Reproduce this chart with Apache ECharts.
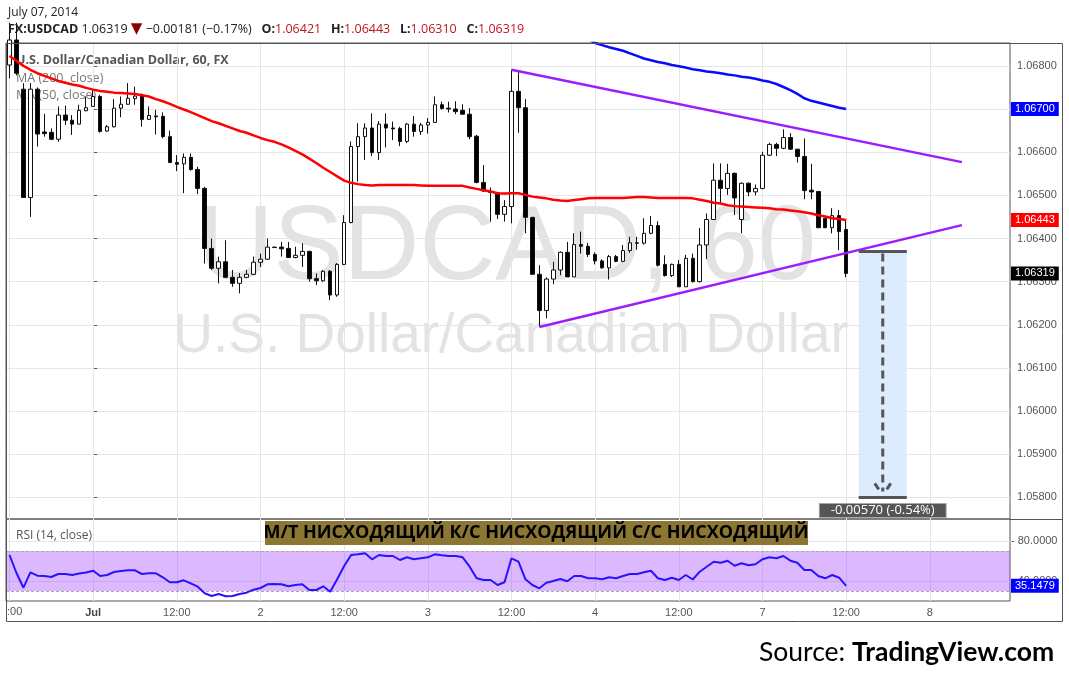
<!DOCTYPE html>
<html><head><meta charset="utf-8">
<script src="https://cdn.jsdelivr.net/npm/echarts@6/dist/echarts.min.js"></script>
<style>html,body{margin:0;padding:0;background:#fff;}#c{width:1069px;height:679px;}</style>
</head><body><div id="c"></div>
<script>
// ---- data (hourly bars, first bar = Jun 30 12:00, bar 12 = Jul 1 00:00) ----
const barCount = 144;   // hourly slots on the time scale (incl. empty future)
const firstBar = -12;   // index of first bar relative to Jul 1 00:00
const xTickLabels = ['12:00','Jul','12:00','2','12:00','3','12:00','4','12:00','7','12:00','8'];
const opens = [
1.06802,1.06860,1.06746,1.06495,1.06746,1.06647,1.06646,1.06630,1.06686,1.06674,1.06665,1.06696,
1.06706,1.06729,1.06649,1.06659,1.06702,1.06711,1.06724,1.06730,1.06676,1.06684,1.06683,1.06636,
1.06576,1.06573,1.06588,1.06560,1.06516,1.06377,1.06331,1.06346,1.06310,1.06296,1.06310,1.06317,
1.06345,1.06352,1.06380,1.06380,1.06377,1.06356,1.06361,1.06370,1.06307,1.06302,1.06324,1.06269,
1.06340,1.06437,1.06613,1.06636,1.06656,1.06599,1.06665,1.06656,1.06655,1.06625,1.06665,1.06648,
1.06663,1.06669,1.06710,1.06702,1.06700,1.06697,1.06688,1.06637,1.06530,1.06509,1.06506,1.06456,
1.06474,1.06741,1.06703,1.06449,1.06317,1.06233,1.06306,1.06327,1.06368,1.06311,1.06386,1.06382,
1.06363,1.06348,1.06332,1.06358,1.06347,1.06372,1.06390,1.06389,1.06412,1.06430,1.06340,1.06314,
1.06340,1.06288,1.06354,1.06300,1.06385,1.06444,1.06535,1.06516,1.06551,1.06444,1.06528,1.06508,
1.06516,1.06593,1.06618,1.06609,1.06634,1.06607,1.06590,1.06512,1.06509,1.06447,1.06425,1.06453,
1.06421];
const closes = [
1.06860,1.06783,1.06495,1.06746,1.06642,1.06643,1.06630,1.06686,1.06674,1.06665,1.06697,1.06703,
1.06729,1.06648,1.06659,1.06702,1.06711,1.06725,1.06730,1.06676,1.06685,1.06682,1.06636,1.06576,
1.06572,1.06588,1.06560,1.06516,1.06377,1.06331,1.06346,1.06310,1.06296,1.06310,1.06317,1.06345,
1.06352,1.06380,1.06379,1.06376,1.06356,1.06361,1.06370,1.06307,1.06302,1.06324,1.06269,1.06340,
1.06437,1.06613,1.06636,1.06656,1.06599,1.06665,1.06656,1.06654,1.06625,1.06665,1.06648,1.06663,
1.06669,1.06710,1.06701,1.06700,1.06694,1.06688,1.06636,1.06530,1.06510,1.06507,1.06456,1.06474,
1.06741,1.06703,1.06449,1.06317,1.06233,1.06306,1.06327,1.06368,1.06311,1.06386,1.06382,1.06363,
1.06348,1.06332,1.06358,1.06347,1.06372,1.06390,1.06389,1.06412,1.06430,1.06338,1.06314,1.06340,
1.06288,1.06354,1.06300,1.06385,1.06444,1.06535,1.06516,1.06551,1.06494,1.06528,1.06508,1.06516,
1.06593,1.06618,1.06609,1.06634,1.06607,1.06590,1.06511,1.06508,1.06425,1.06425,1.06453,1.06416,
1.06319];
const lows = [
1.06771,1.06778,1.06495,1.06450,1.06613,1.06636,1.06628,1.06624,1.06663,1.06640,1.06664,1.06695,
1.06705,1.06645,1.06647,1.06657,1.06681,1.06710,1.06710,1.06659,1.06675,1.06641,1.06632,1.06575,
1.06556,1.06505,1.06557,1.06503,1.06342,1.06327,1.06296,1.06308,1.06288,1.06273,1.06308,1.06315,
1.06334,1.06350,1.06379,1.06358,1.06355,1.06354,1.06334,1.06300,1.06292,1.06300,1.06257,1.06265,
1.06338,1.06435,1.06532,1.06582,1.06591,1.06582,1.06611,1.06628,1.06614,1.06621,1.06636,1.06640,
1.06643,1.06668,1.06699,1.06692,1.06688,1.06687,1.06630,1.06528,1.06508,1.06439,1.06445,1.06439,
1.06435,1.06645,1.06412,1.06317,1.06195,1.06215,1.06294,1.06315,1.06311,1.06311,1.06365,1.06357,
1.06340,1.06330,1.06305,1.06345,1.06345,1.06367,1.06374,1.06386,1.06410,1.06335,1.06312,1.06311,
1.06288,1.06288,1.06298,1.06298,1.06352,1.06443,1.06480,1.06501,1.06454,1.06412,1.06498,1.06500,
1.06514,1.06591,1.06591,1.06607,1.06605,1.06576,1.06491,1.06491,1.06424,1.06424,1.06412,1.06373,
1.06310];
const highs = [
1.06900,1.06900,1.06760,1.06760,1.06750,1.06689,1.06655,1.06706,1.06708,1.06686,1.06710,1.06729,
1.06744,1.06733,1.06663,1.06723,1.06729,1.06760,1.06752,1.06736,1.06706,1.06698,1.06692,1.06650,
1.06593,1.06597,1.06597,1.06566,1.06520,1.06400,1.06358,1.06396,1.06327,1.06320,1.06327,1.06358,
1.06365,1.06400,1.06381,1.06392,1.06392,1.06381,1.06389,1.06372,1.06319,1.06327,1.06327,1.06343,
1.06454,1.06625,1.06667,1.06667,1.06690,1.06672,1.06690,1.06671,1.06659,1.06667,1.06684,1.06668,
1.06679,1.06729,1.06717,1.06717,1.06718,1.06711,1.06702,1.06640,1.06570,1.06518,1.06508,1.06489,
1.06791,1.06787,1.06723,1.06450,1.06338,1.06310,1.06346,1.06370,1.06392,1.06412,1.06416,1.06390,
1.06368,1.06352,1.06362,1.06362,1.06385,1.06404,1.06404,1.06447,1.06452,1.06440,1.06361,1.06342,
1.06350,1.06362,1.06365,1.06424,1.06458,1.06574,1.06574,1.06573,1.06553,1.06530,1.06530,1.06525,
1.06601,1.06622,1.06622,1.06653,1.06644,1.06607,1.06632,1.06573,1.06509,1.06447,1.06470,1.06466,
1.06443];
const ma50 = [
1.06823,1.06812,1.06800,1.06791,1.06783,1.06777,1.06771,1.06765,1.06761,1.06757,1.06754,1.06749,
1.06745,1.06742,1.06740,1.06738,1.06737,1.06736,1.06735,1.06732,1.06729,1.06723,1.06718,1.06712,
1.06705,1.06699,1.06693,1.06686,1.06679,1.06672,1.06667,1.06661,1.06655,1.06649,1.06645,1.06639,
1.06633,1.06628,1.06624,1.06618,1.06611,1.06603,1.06595,1.06585,1.06575,1.06564,1.06554,1.06544,
1.06534,1.06529,1.06526,1.06524,1.06523,1.06524,1.06524,1.06524,1.06524,1.06524,1.06524,1.06523,
1.06522,1.06522,1.06522,1.06522,1.06522,1.06522,1.06518,1.06515,1.06512,1.06509,1.06505,1.06504,
1.06505,1.06505,1.06501,1.06497,1.06495,1.06493,1.06490,1.06488,1.06487,1.06489,1.06491,1.06493,
1.06494,1.06494,1.06494,1.06494,1.06494,1.06495,1.06496,1.06496,1.06495,1.06494,1.06494,1.06494,
1.06494,1.06494,1.06493,1.06490,1.06487,1.06483,1.06481,1.06477,1.06475,1.06474,1.06473,1.06472,
1.06471,1.06470,1.06468,1.06467,1.06465,1.06463,1.06461,1.06458,1.06454,1.06451,1.06447,1.06445,
1.06443];
const ma200 = [
null,null,null,null,null,null,null,null,null,null,null,null,
null,null,null,null,null,null,null,null,null,null,null,null,
null,null,null,null,null,null,null,null,null,null,null,null,
null,null,null,null,null,null,null,null,null,null,null,null,
null,null,null,null,null,null,null,null,null,null,null,null,
null,null,null,null,null,null,null,null,null,null,null,null,
null,null,null,null,null,null,null,null,1.06880,1.06875,1.06870,1.06862,
1.06853,1.06848,1.06843,1.06839,1.06835,1.06829,1.06823,1.06817,1.06813,1.06809,1.06806,1.06802,
1.06799,1.06796,1.06792,1.06790,1.06787,1.06785,1.06783,1.06780,1.06778,1.06775,1.06773,1.06770,
1.06766,1.06763,1.06758,1.06751,1.06744,1.06735,1.06725,1.06719,1.06715,1.06711,1.06707,1.06703,
1.06700];
const rsi = [
66,48,33.3,48.7,45.3,45,44,47,47,46,47.5,48.5,
50.3,45,46,49,50,50.7,50.7,47,47.7,47.7,43.7,38.7,
38.7,40.7,37.7,34.3,27.7,25,27,24.7,25,27,28.3,31.3,
33,36.7,37,36.7,34.7,36,36.7,31,31,34.7,29.3,41.7,
55,66,66.7,67.7,61.7,66,65,65,61,63.7,61.7,62.7,
63.7,66.7,65.7,65,65,63.7,54.3,42.7,41,41,36,38.7,
62.7,59.3,41.7,36,32.7,38.3,40,42,39.7,45,45,42.7,
42.7,41.7,43.7,42.7,45,47,47,48.7,50.3,42.7,41,43.3,
41,46,41.5,49.3,54.3,59.3,58.3,60.3,55.3,57.7,55.7,56.7,
61.7,63.7,62.7,65,60.3,58.3,51,51,45,42.7,46,43.3,
35.1479];
const prevDayClose = 1.06500;
// trend lines: [bar index from Jul 1 00:00, price]
const trendTop = [[60, 1.06791], [124.6, 1.06577]];
const trendBottom = [[64, 1.06195], [124.6, 1.06431]];
// projection: [start bar, end bar, from price, target price]
const projection = [[109.8, 116.7, 1.06370, 1.05800]];
const rsiBand = [30, 70];

// ---- chart ----
const L = opens.length - 1;
const cats = Array.from({length: barCount}, (_, k) => String(k + firstBar));
const candles = opens.map((o, k) => [o, closes[k], lows[k], highs[k]]);
const vGrid = [];
for (let k = 0; k < barCount; k += 12) vGrid.push({xAxis: k});
const sgn = (v, d) => (v < 0 ? '\u2212' : '+') + Math.abs(v).toFixed(d);
const chg = closes[L] - prevDayClose;
const gap = '   ';
const hdr = '{b|FX:USDCAD} ' + closes[L].toFixed(5) + ' {t|\u25BC} ' + sgn(chg, 5) + ' (' + sgn(chg / prevDayClose * 100, 2) + '%)   ' +
  '{b|O:}{r|' + opens[L].toFixed(5) + '}' + gap + '{b|H:}{r|' + highs[L].toFixed(5) + '}' + gap +
  '{b|L:}{r|' + lows[L].toFixed(5) + '}' + gap + '{b|C:}{r|' + closes[L].toFixed(5) + '}';

const tagLabel = (bg, d) => ({show: true, position: 'end', distance: 1, color: '#fff', backgroundColor: bg,
  fontSize: 11, fontFamily: 'Liberation Sans, Arial', padding: [2, 4, 1, 4], formatter: p => Number(p.value).toFixed(d)});
const hidden = {color: 'rgba(0,0,0,0)', width: 1, type: 'solid'};

const chart = echarts.init(document.getElementById('c'), null, {renderer: 'canvas', width: 1069, height: 679});
chart.setOption({
  animation: false,
  backgroundColor: '#fff',
  grid: [
    {left: 6, right: 59, top: 43, height: 476, show: true, borderColor: '#555', borderWidth: 1},
    {left: 6, right: 59, top: 519, height: 82, show: true, borderColor: '#555', borderWidth: 1}
  ],
  xAxis: [
    {type: 'category', gridIndex: 0, data: cats, show: false},
    {type: 'category', gridIndex: 1, data: cats, axisLine: {show: false}, axisTick: {show: false}, splitLine: {show: false},
      axisLabel: {interval: 11, margin: 6, color: '#555', fontSize: 11, fontFamily: 'Liberation Sans, Arial',
        formatter: (v, idx) => { if (idx === 0) return ''; const t = xTickLabels[idx / 12]; return t === undefined ? '' : (t === 'Jul' ? '{b|Jul}' : t); },
        rich: {b: {fontWeight: 'bold', color: '#444', fontSize: 11, fontFamily: 'Liberation Sans, Arial'}}}},
    {type: 'value', gridIndex: 0, min: firstBar - 0.5, max: firstBar + barCount - 0.5, show: false}
  ],
  yAxis: [
    {type: 'value', gridIndex: 0, position: 'right', min: 1.0575, max: 1.06853, splitNumber: 11,
      axisLine: {show: false}, axisTick: {show: true, length: 4, lineStyle: {color: '#555'}},
      axisLabel: {showMinLabel: false, showMaxLabel: false, margin: 7, color: '#555', fontSize: 11,
        fontFamily: 'Liberation Sans, Arial', formatter: v => v.toFixed(5)},
      splitLine: {show: true, showMinLine: false, showMaxLine: false, lineStyle: {color: '#e6e6e6'}}},
    {type: 'value', gridIndex: 1, position: 'right', min: 20, max: 102, interval: 20,
      axisLine: {show: false}, axisTick: {show: false}, splitLine: {show: false},
      axisLabel: {margin: 1, color: '#555', fontSize: 11, fontFamily: 'Liberation Sans, Arial',
        formatter: v => (v === 80 || v === 40) ? '- ' + v.toFixed(4) : ''}}
  ],
  series: [
    {type: 'line', xAxisIndex: 0, yAxisIndex: 0, data: [], silent: true,
      markLine: {silent: true, symbol: 'none', z: 1, label: {show: false}, animation: false,
        lineStyle: {color: '#e6e6e6', type: 'solid', width: 1}, data: vGrid}},
    {type: 'candlestick', xAxisIndex: 0, yAxisIndex: 0, data: candles, barWidth: 4, z: 3,
      itemStyle: {color: '#ffffff', color0: '#000000', borderColor: '#111', borderColor0: '#111', borderWidth: 1}},
    {type: 'line', xAxisIndex: 0, yAxisIndex: 0, data: ma50, symbol: 'none', z: 4,
      lineStyle: {color: '#ff0000', width: 2.5}},
    {type: 'line', xAxisIndex: 0, yAxisIndex: 0, data: ma200, symbol: 'none', z: 4,
      lineStyle: {color: '#0a0aff', width: 2.5}},
    {type: 'line', xAxisIndex: 2, yAxisIndex: 0, data: trendTop, symbol: 'none', z: 5,
      lineStyle: {color: '#9c1dfb', width: 2.5}},
    {type: 'line', xAxisIndex: 2, yAxisIndex: 0, data: trendBottom, symbol: 'none', z: 5,
      lineStyle: {color: '#9c1dfb', width: 2.5}},
    {type: 'custom', xAxisIndex: 2, yAxisIndex: 0, data: projection, z: 6, silent: true,
      renderItem: (params, api) => {
        const a = api.coord([api.value(0), api.value(2)]);
        const b = api.coord([api.value(1), api.value(3)]);
        const x0 = a[0], x1 = b[0], yT = a[1], yB = b[1], cx = (x0 + x1) / 2;
        const diff = api.value(3) - api.value(2);
        const txt = diff.toFixed(5) + ' (' + (diff / api.value(2) * 100).toFixed(2) + '%)';
        const st = {stroke: '#555', lineWidth: 3};
        return {type: 'group', children: [
          {type: 'rect', shape: {x: x0, y: yT, width: x1 - x0, height: yB - yT}, style: {fill: '#ddecfc'}},
          {type: 'line', shape: {x1: cx, y1: yT + 2, x2: cx, y2: yB - 6}, style: {stroke: '#555', lineWidth: 3, lineDash: [8, 5]}},
          {type: 'line', shape: {x1: cx - 8, y1: yB - 14, x2: cx - 4, y2: yB - 8}, style: st},
          {type: 'line', shape: {x1: cx + 8, y1: yB - 14, x2: cx + 4, y2: yB - 8}, style: st},
          {type: 'line', shape: {x1: x0, y1: yT, x2: x1, y2: yT}, style: st},
          {type: 'line', shape: {x1: x0, y1: yB, x2: x1, y2: yB}, style: st},
          {type: 'text', x: cx, y: yB + 13, style: {text: txt, fill: '#fff', font: '13px "Open Sans"',
            align: 'center', verticalAlign: 'middle', textAlign: 'center', textVerticalAlign: 'middle',
            backgroundColor: '#555', padding: [0, 11, 0, 11], borderColor: '#aaa', borderWidth: 1}}
        ]};
      }},
    {type: 'line', xAxisIndex: 0, yAxisIndex: 0, data: [], silent: true,
      markLine: {silent: true, symbol: 'none', z: 20, animation: false, precision: 5, lineStyle: hidden,
        data: [
          {yAxis: ma200[L], label: tagLabel('#0000ff', 5)},
          {yAxis: ma50[L], label: tagLabel('#ff0000', 5)},
          {yAxis: closes[L], label: tagLabel('#000000', 5)}
        ]}},
    // RSI panel
    {type: 'line', xAxisIndex: 1, yAxisIndex: 1, data: [], silent: true,
      markLine: {silent: true, symbol: 'none', z: 1, label: {show: false}, animation: false,
        lineStyle: {color: '#e6e6e6', type: 'solid', width: 1}, data: vGrid.concat([{yAxis: 80}, {yAxis: 40}])},
      markArea: {silent: true, z: 2, itemStyle: {color: 'rgba(153,51,255,0.34)'}, data: [[{yAxis: rsiBand[0]}, {yAxis: rsiBand[1]}]]}},
    {type: 'line', xAxisIndex: 1, yAxisIndex: 1, data: [], silent: true,
      markLine: {silent: true, symbol: 'none', z: 3, label: {show: false}, animation: false,
        lineStyle: {color: '#a9a9a9', type: [3, 2], width: 1}, data: [{yAxis: rsiBand[0]}, {yAxis: rsiBand[1]}]}},
    {type: 'line', xAxisIndex: 1, yAxisIndex: 1, data: rsi, symbol: 'none', z: 5,
      lineStyle: {color: '#2b12ff', width: 2}},
    {type: 'line', xAxisIndex: 1, yAxisIndex: 1, data: [], silent: true,
      markLine: {silent: true, symbol: 'none', z: 20, animation: false, precision: 4, lineStyle: hidden,
        data: [{yAxis: rsi[L], label: tagLabel('#0000ff', 4)}]}}
  ],
  graphic: {elements: [
    {type: 'text', z: 0, x: 507, y: 250, silent: true, style: {text: 'USDCAD, 60', font: '105px "Liberation Sans", Arial',
      fill: '#e3e3e3', align: 'center', verticalAlign: 'middle', textAlign: 'center', textVerticalAlign: 'middle'}},
    {type: 'text', z: 0, x: 511, y: 337, silent: true, style: {text: 'U.S. Dollar/Canadian Dollar', font: '55px "Liberation Sans", Arial',
      fill: '#e3e3e3', align: 'center', verticalAlign: 'middle', textAlign: 'center', textVerticalAlign: 'middle'}},
    {type: 'text', z: 1, x: 16, y: 60, style: {text: 'U.S. Dollar/Canadian Dollar, 60, FX', font: 'bold 12.5px "Open Sans"',
      fill: '#555', verticalAlign: 'middle', textVerticalAlign: 'middle'}},
    {type: 'text', z: 1, x: 16, y: 78, style: {text: 'MA (200, close)', font: '12.5px "Open Sans"', fill: '#777',
      verticalAlign: 'middle', textVerticalAlign: 'middle'}},
    {type: 'text', z: 1, x: 16, y: 95, style: {text: 'MA (50, close)', font: '12.5px "Open Sans"', fill: '#777',
      verticalAlign: 'middle', textVerticalAlign: 'middle'}},
    {type: 'text', z: 1, x: 16, y: 536, style: {text: 'RSI (14, close)', font: '12px "Open Sans"', fill: '#555',
      verticalAlign: 'middle', textVerticalAlign: 'middle'}},
    // first time label, cut by the left frame edge
    {type: 'text', z: 50, x: 7, y: 612, style: {text: xTickLabels[0].slice(2), font: '11px "Liberation Sans", Arial', fill: '#555',
      verticalAlign: 'middle', textVerticalAlign: 'middle'}},
    {type: 'text', z: 50, x: 8, y: 13, style: {text: 'July 07, 2014', font: '12px "Open Sans"', fill: '#222',
      verticalAlign: 'middle', textVerticalAlign: 'middle'}},
    {type: 'text', z: 50, x: 8, y: 29, style: {text: hdr, font: '12.5px "Open Sans"', fill: '#222',
      verticalAlign: 'middle', textVerticalAlign: 'middle',
      rich: {b: {font: 'bold 12.5px "Open Sans"', fill: '#222'}, r: {font: '12.5px "Open Sans"', fill: '#c0161b'},
        t: {font: '15px "DejaVu Sans"', fill: '#8b0000'}}}},
    {type: 'rect', z: 60, silent: true, shape: {x: 6.5, y: 43.5, width: 1056, height: 578},
      style: {fill: 'none', stroke: '#555', lineWidth: 1}},
    {type: 'line', z: 60, silent: true, shape: {x1: 1010, y1: 519.5, x2: 1063, y2: 519.5}, style: {stroke: '#555', lineWidth: 1}},
    {type: 'rect', z: 62, shape: {x: 265, y: 521, width: 543, height: 24}, style: {fill: '#8c7634'}},
    {type: 'text', z: 63, x: 536, y: 533, style: {text: 'М/Т НИСХОДЯЩИЙ К/С НИСХОДЯЩИЙ С/С НИСХОДЯЩИЙ',
      font: 'bold 18px "Open Sans"', fill: '#000', align: 'center', verticalAlign: 'middle', textAlign: 'center', textVerticalAlign: 'middle'}},
    {type: 'text', z: 63, x: 759, y: 652, style: {text: '{n|Source: }{b|TradingView.com}', verticalAlign: 'middle', textVerticalAlign: 'middle',
      rich: {n: {font: '26.5px Lato', fill: '#000'}, b: {font: 'bold 26.5px Lato', fill: '#000'}}}}
  ]}
});
</script></body></html>
